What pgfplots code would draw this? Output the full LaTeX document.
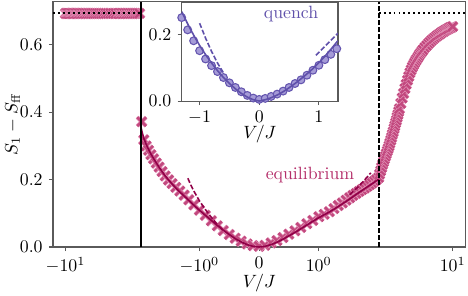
\documentclass[border=0pt]{standalone}
\usepackage{pgfplots}
\pgfplotsset{compat=1.18}
\definecolor{mk}{RGB}{194,72,126}
\definecolor{mkedge}{RGB}{226,145,182}
\definecolor{eqline}{RGB}{145,0,72}
\definecolor{eqtext}{RGB}{180,45,105}
\definecolor{qfill}{RGB}{165,155,215}
\definecolor{qedge}{RGB}{100,85,175}
\definecolor{qline}{RGB}{95,80,170}
\definecolor{spine}{RGB}{90,90,90}
\pgfdeclareplotmark{fatx}{%
  \pgfsetlinewidth{2.2pt}\pgfsetstrokecolor{mkedge}%
  \pgfpathmoveto{\pgfqpoint{-\pgfplotmarksize}{-\pgfplotmarksize}}%
  \pgfpathlineto{\pgfqpoint{\pgfplotmarksize}{\pgfplotmarksize}}%
  \pgfpathmoveto{\pgfqpoint{-\pgfplotmarksize}{\pgfplotmarksize}}%
  \pgfpathlineto{\pgfqpoint{\pgfplotmarksize}{-\pgfplotmarksize}}%
  \pgfusepathqstroke
  \pgfsetlinewidth{1.4pt}\pgfsetstrokecolor{mk}%
  \pgfpathmoveto{\pgfqpoint{-\pgfplotmarksize}{-\pgfplotmarksize}}%
  \pgfpathlineto{\pgfqpoint{\pgfplotmarksize}{\pgfplotmarksize}}%
  \pgfpathmoveto{\pgfqpoint{-\pgfplotmarksize}{\pgfplotmarksize}}%
  \pgfpathlineto{\pgfqpoint{\pgfplotmarksize}{-\pgfplotmarksize}}%
  \pgfusepathqstroke
}
\pgfplotsset{
  symlogx/.style={x coord trafo/.code={\pgfmathparse{(##1>=0 ? 1 : -1)*(0.4455*min(abs(##1),1)+ln(max(abs(##1),1))/2.302585)}}},
  mystyle/.style={
    scale only axis,
    clip mode=individual,
    axis line style={spine, line width=0.6pt},
    tick style={spine, line width=0.6pt},
    tick align=outside,
    major tick length=2.3pt,
    tick pos=left,
    minor tick num=0,
  }
}
\begin{document}
\begin{tikzpicture}
\useasboundingbox (-29.81pt,-27pt) rectangle (233.44pt,138.94pt);
\begin{axis}[mystyle, symlogx,
  at={(0,0)}, anchor=south west,
  width=232.1pt, height=138.0pt,
  xmin=-12.4, xmax=12.5, ymin=0, ymax=0.728,
  xtick={-10,-1,0,1,10},
  xticklabels={$-10^{1}$,$-10^{0}$,$0$,$10^{0}$,$10^{1}$},
  ytick={0,0.2,0.4,0.6},
  yticklabel style={/pgf/number format/.cd, fixed, fixed zerofill, precision=1},
  xlabel={$V/J$}, ylabel={$S_1 - S_{\mathrm{ff}}$},
  xlabel style={at={(axis description cs:0.5,-0.147)}, anchor=center},
  ylabel style={at={(axis description cs:-0.098,0.5)}, anchor=center, inner sep=0pt},
]
\addplot[only marks, mark=fatx, mark size=2.5pt] coordinates {
(-10,0.693) (-9.8,0.693) (-9.6,0.693) (-9.4,0.693) (-9.2,0.693) (-9.0,0.693) (-8.8,0.693) (-8.6,0.693) (-8.4,0.693) (-8.2,0.693)
(-8.0,0.693) (-7.8,0.693) (-7.6,0.693) (-7.4,0.693) (-7.2,0.693) (-7.0,0.693) (-6.8,0.693) (-6.6,0.693) (-6.4,0.693) (-6.2,0.693)
(-6.0,0.693) (-5.8,0.693) (-5.6,0.693) (-5.4,0.693) (-5.2,0.693) (-5.0,0.693) (-4.8,0.693) (-4.6,0.693) (-4.4,0.693) (-4.2,0.693)
(-4.0,0.693) (-3.9,0.693) (-3.8,0.693) (-3.7,0.693) (-3.6,0.693) (-3.5,0.693) (-3.4,0.693) (-3.3,0.693) (-3.2,0.693) (-3.1,0.693)
(-3.0,0.693) (-2.9,0.693) (-2.8,0.693)
(-2.7,0.372) (-2.6,0.318) (-2.5,0.300) (-2.4,0.287) (-2.3,0.274) (-2.2,0.262) (-2.1,0.249) (-2.0,0.237) (-1.9,0.224) (-1.8,0.211)
(-1.7,0.199) (-1.6,0.188) (-1.5,0.177) (-1.4,0.166) (-1.3,0.154) (-1.2,0.140) (-1.1,0.125) (-1.0,0.109) (-0.9,0.094) (-0.8,0.078)
(-0.7,0.063) (-0.6,0.049) (-0.5,0.037) (-0.4,0.026) (-0.3,0.017) (-0.2,0.009) (-0.1,0.004) (0,0.002) (0.1,0.005) (0.2,0.012)
(0.3,0.019) (0.4,0.028) (0.5,0.038) (0.6,0.048) (0.7,0.058) (0.8,0.069) (0.9,0.079) (1.0,0.090) (1.1,0.097) (1.2,0.105)
(1.3,0.114) (1.4,0.123) (1.5,0.131) (1.6,0.139) (1.7,0.146) (1.8,0.153) (1.9,0.159) (2.0,0.165) (2.1,0.170) (2.2,0.175)
(2.3,0.180) (2.4,0.185) (2.5,0.190) (2.6,0.195) (2.7,0.200) (2.8,0.206)
(2.85,0.216) (2.9,0.226) (2.95,0.236) (3.0,0.245) (3.05,0.253) (3.1,0.261) (3.15,0.269) (3.2,0.277) (3.25,0.285) (3.3,0.292)
(3.35,0.300) (3.4,0.308) (3.45,0.317) (3.5,0.325) (3.55,0.334) (3.6,0.342) (3.65,0.351) (3.7,0.359) (3.75,0.368) (3.8,0.376)
(3.85,0.385) (3.9,0.393) (3.95,0.402) (4.0,0.410) (4.1,0.426) (4.2,0.442) (4.3,0.456) (4.4,0.470) (4.5,0.483) (4.6,0.495)
(4.7,0.506) (4.8,0.517) (4.9,0.526) (5.0,0.534) (5.1,0.541) (5.2,0.547) (5.3,0.553) (5.4,0.558) (5.5,0.563) (5.6,0.568)
(5.7,0.573) (5.8,0.577) (5.9,0.581) (6.0,0.585) (6.2,0.592) (6.4,0.598) (6.6,0.604) (6.8,0.609) (7.0,0.614) (7.2,0.618)
(7.4,0.622) (7.6,0.626) (7.8,0.629) (8.0,0.632) (8.2,0.635) (8.4,0.638) (8.6,0.640) (8.8,0.643) (9.0,0.645) (9.2,0.647)
(9.4,0.649) (9.6,0.651) (9.8,0.652) (10.0,0.654)
};
\addplot[eqline, line width=0.9pt, dash pattern=on 2.8pt off 1.2pt] coordinates {
(-1.22,0.204) (-1.15,0.181) (-1.1,0.166) (-1.0,0.137) (-0.9,0.111) (-0.8,0.088) (-0.7,0.067) (-0.6,0.049)
};
\addplot[eqline, line width=0.9pt, dash pattern=on 2.8pt off 1.2pt] coordinates {
(1.7,0.155) (2.0,0.181) (2.2,0.199) (2.45,0.220)
};
\addplot[eqline, line width=0.9pt] coordinates {
(-2.75,0.366) (-2.7,0.346) (-2.6,0.322) (-2.5,0.305) (-2.4,0.290) (-2.3,0.276) (-2.2,0.263) (-2.1,0.250) (-2.0,0.237) (-1.9,0.224)
(-1.8,0.211) (-1.7,0.199) (-1.6,0.187) (-1.5,0.175) (-1.4,0.163) (-1.3,0.151) (-1.2,0.138) (-1.1,0.124) (-1.0,0.109) (-0.9,0.094)
(-0.8,0.079) (-0.7,0.064) (-0.6,0.050) (-0.5,0.037) (-0.4,0.025) (-0.3,0.015) (-0.2,0.007) (-0.1,0.002) (0,0.0) (0.1,0.002)
(0.2,0.007) (0.3,0.014) (0.4,0.023) (0.5,0.033) (0.6,0.043) (0.7,0.054) (0.8,0.065) (0.9,0.076) (1.0,0.087) (1.2,0.104)
(1.4,0.120) (1.6,0.135) (1.8,0.149) (2.0,0.162) (2.2,0.173) (2.4,0.183) (2.6,0.192) (2.8,0.201)
};
\addplot[black, line width=1.1pt] coordinates {(-2.75,0) (-2.75,0.728)};
\addplot[black, line width=1.1pt, dash pattern=on 2.8pt off 1.1pt] coordinates {(2.8,0) (2.8,0.728)};
\addplot[black, line width=1.1pt, dash pattern=on 1.1pt off 1.7pt] coordinates {(-12.4,0.693) (-2.75,0.693)};
\addplot[black, line width=1.1pt, dash pattern=on 1.1pt off 1.7pt] coordinates {(2.8,0.693) (12.5,0.693)};
\node[text=eqtext] at (rel axis cs:0.623,0.294) {equilibrium};
\end{axis}
\begin{axis}[mystyle,
  at={(72.4pt,82.1pt)}, anchor=south west,
  width=87.9pt, height=55.7pt,
  axis background/.style={fill=white},
  xmin=-1.3, xmax=1.32, ymin=0, ymax=0.299,
  xtick={-1,0,1}, ytick={0,0.2},
  yticklabel style={/pgf/number format/.cd, fixed, fixed zerofill, precision=1},
  xlabel={$V/J$},
  xlabel style={at={(axis description cs:0.5,-0.335)}, anchor=center},
]
\addplot[qline, line width=0.9pt, dash pattern=on 2.8pt off 1.2pt] coordinates {
(-1.0,0.235) (-0.9,0.190) (-0.8,0.150) (-0.7,0.115) (-0.6,0.085) (-0.5,0.059) (-0.4,0.038) (-0.3,0.021)
};
\addplot[only marks, mark=*, mark size=2.2pt, mark options={fill=qfill, draw=qedge, line width=0.6pt}] coordinates {
(-1.3,0.252) (-1.2,0.215) (-1.1,0.182) (-1.0,0.152) (-0.9,0.127) (-0.8,0.107) (-0.7,0.089) (-0.6,0.071) (-0.5,0.055) (-0.4,0.041)
(-0.3,0.028) (-0.2,0.017) (-0.1,0.009) (0,0.005) (0.1,0.008) (0.2,0.014) (0.3,0.021) (0.4,0.030) (0.5,0.041) (0.6,0.053)
(0.7,0.064) (0.8,0.078) (0.9,0.093) (1.0,0.108) (1.1,0.125) (1.2,0.141) (1.3,0.158)
};
\addplot[qline, line width=0.9pt] coordinates {
(-1.3,0.270) (-1.2,0.233) (-1.1,0.199) (-1.0,0.168) (-0.9,0.140) (-0.8,0.115) (-0.7,0.092) (-0.6,0.071) (-0.5,0.053) (-0.4,0.037)
(-0.3,0.023) (-0.2,0.012) (-0.1,0.004) (0,0.0) (0.1,0.004) (0.2,0.010) (0.3,0.018) (0.4,0.028) (0.5,0.040) (0.6,0.053)
(0.7,0.067) (0.8,0.082) (0.9,0.098) (1.0,0.116) (1.1,0.135) (1.2,0.156) (1.3,0.178) (1.32,0.182)
};
\addplot[qline, line width=0.9pt, dash pattern=on 2.8pt off 1.2pt] coordinates {
(0.95,0.138) (1.1,0.165) (1.32,0.205)
};
\node[text=qline] at (rel axis cs:0.70,0.88) {quench};
\end{axis}
\end{tikzpicture}
\end{document}
